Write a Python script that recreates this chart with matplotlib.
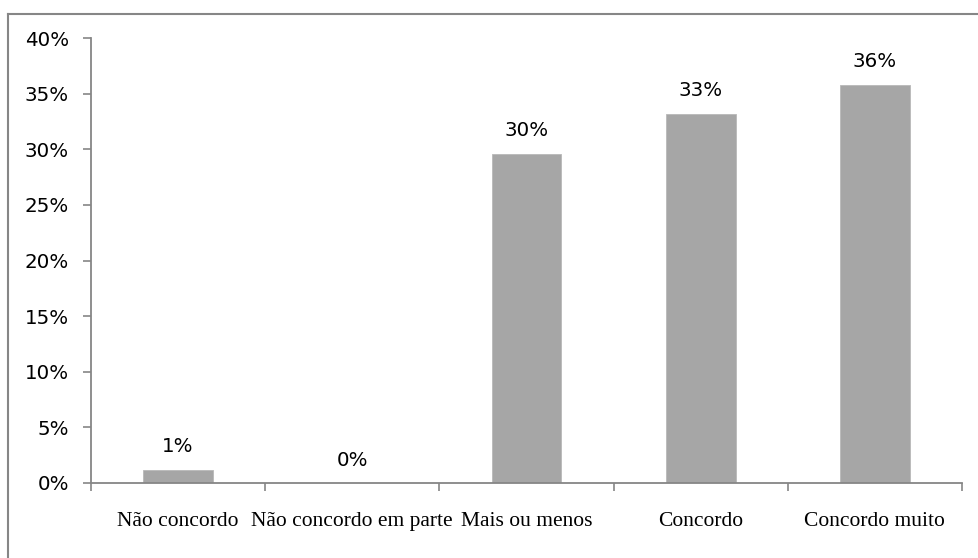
import numpy as np
import matplotlib
matplotlib.use("Agg")
import matplotlib.pyplot as plt
from matplotlib.lines import Line2D
from matplotlib.ticker import FixedLocator, PercentFormatter

# Survey answers and share of respondents (%)
categories = ["Não concordo", "Não concordo em parte", "Mais ou menos",
              "Concordo", "Concordo muito"]
shares = [1.2, 0.0, 29.6, 33.2, 35.8]
yticks = [0, 5, 10, 15, 20, 25, 30, 35, 40]

axis_grey = "#868686"
bar_grey = "#a6a6a6"

fig = plt.figure(figsize=(9.79, 5.58), dpi=100)
ax = fig.add_axes([91 / 979, 75 / 558, 871 / 979, 445 / 558])

x = np.arange(len(categories))
ax.bar(x, shares, width=0.4, color=bar_grey, edgecolor="#b8b8b8", linewidth=0.6)

# value labels above each bar
for xi, v in zip(x, shares):
    ax.annotate(f"{v:.0f}%", (xi, v), xytext=(0, 23), textcoords="offset pixels",
                ha="center", va="center", fontsize=14.3, family="DejaVu Sans")

ax.set_xlim(-0.5, len(categories) - 0.5)
ax.set_ylim(0, 40)
ax.set_yticks(yticks)
ax.yaxis.set_major_formatter(PercentFormatter(decimals=0))

# category labels in the middle, tick marks at category boundaries
ax.set_xticks(x)
ax.set_xticklabels(categories, family="Liberation Serif", fontsize=15.5)
ax.xaxis.set_minor_locator(FixedLocator(np.arange(-0.5, len(categories), 1.0)))
ax.tick_params(axis="x", which="major", length=0, pad=21)
ax.tick_params(axis="x", which="minor", length=6, width=1.2, color=axis_grey, direction="out")
ax.tick_params(axis="y", length=6, width=1.2, color=axis_grey, pad=10, labelsize=14.3)

for side in ["top", "right"]:
    ax.spines[side].set_visible(False)
for side in ["left", "bottom"]:
    ax.spines[side].set_color(axis_grey)
    ax.spines[side].set_linewidth(1.3)

# outer chart frame (left and top edges)
fig.add_artist(Line2D([8.5 / 979, 8.5 / 979], [0, 1 - 13.5 / 558],
                      transform=fig.transFigure, color=axis_grey, lw=1.5))
fig.add_artist(Line2D([8.5 / 979, 1], [1 - 13.5 / 558, 1 - 13.5 / 558],
                      transform=fig.transFigure, color=axis_grey, lw=1.5))

fig.savefig("out.png", dpi=100)
